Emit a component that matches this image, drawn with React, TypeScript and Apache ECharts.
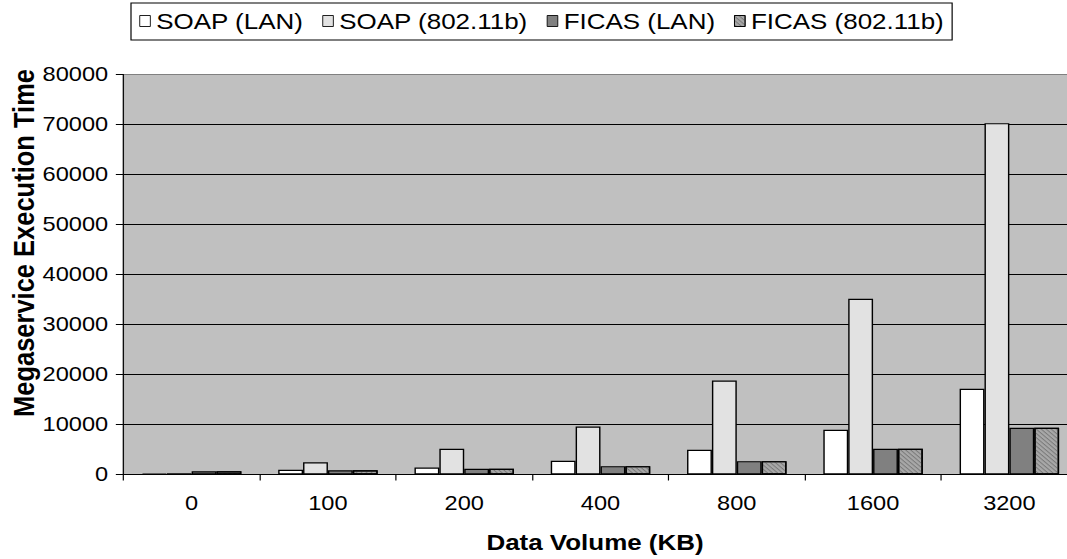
import React, { useEffect, useRef } from "react";
import * as echarts from "echarts";

const categories = ["0", "100", "200", "400", "800", "1600", "3200"];
const soapLan = [200, 950, 1400, 2730, 4930, 8930, 17130];
const soapWifi = [250, 2460, 5130, 9600, 18800, 35130, 70270];
const ficasLan = [650, 850, 1130, 1670, 2670, 5130, 9330];
const ficasWifi = [650, 850, 1130, 1670, 2670, 5130, 9330];
const seriesNames = ["SOAP (LAN)", "SOAP (802.11b)", "FICAS (LAN)", "FICAS (802.11b)"];

const FONT = "'Liberation Sans', Arial, sans-serif";
// the original picture is stretched horizontally
const K = 1.18;
const W = 1100 / K;

export default function App() {
  const ref = useRef<HTMLDivElement>(null);
  useEffect(() => {
    if (!ref.current) return;
    const chart = echarts.init(ref.current, undefined, { renderer: "svg" });
    const border = { borderColor: "#000", borderWidth: 1.2 };
    const common = { type: "bar", barGap: "0%", barCategoryGap: "27%" };
    chart.setOption({
      animation: false,
      backgroundColor: "#fff",
      textStyle: { fontFamily: FONT },
      legend: {
        left: 131 / K,
        top: 3,
        padding: [7, 7, 8, 7],
        borderColor: "#000",
        borderWidth: 1,
        icon: "rect",
        itemWidth: 9,
        itemHeight: 11,
        itemGap: 16,
        textStyle: { fontFamily: FONT, fontSize: 22, color: "#000" },
        data: seriesNames.map((n) => ({
          name: n,
          itemStyle: { borderColor: "#000", borderWidth: 0.8 },
        })),
      },
      grid: {
        left: 123.5 / K,
        width: 954 / K,
        top: 74.5,
        bottom: 84.5,
        show: true,
        backgroundColor: "#c0c0c0",
        borderColor: "#808080",
        borderWidth: 1,
      },
      xAxis: {
        type: "category",
        data: categories,
        axisLine: { lineStyle: { color: "#000", width: 1 } },
        axisTick: { show: true, length: 6, lineStyle: { color: "#000" } },
        axisLabel: { fontFamily: FONT, fontSize: 20, color: "#000", margin: 19 },
      },
      yAxis: {
        type: "value",
        min: 0,
        max: 80000,
        interval: 10000,
        axisLine: { show: true, lineStyle: { color: "#000", width: 1 } },
        axisTick: { show: true, length: 6.5, lineStyle: { color: "#000" } },
        axisLabel: {
          fontFamily: FONT,
          fontSize: 20,
          color: "#000",
          margin: 13,
          formatter: (v: number) => String(v),
        },
        splitLine: {
          show: true,
          lineStyle: {
            color: ["#000", "#000", "#000", "#000", "#000", "#000", "#000", "#000", "#808080"],
            width: 1,
          },
        },
      },
      graphic: [
        {
          type: "text",
          x: 23.5 / K,
          y: 243,
          rotation: Math.PI / 2,
          style: {
            text: "Megaservice Execution Time",
            fontFamily: FONT,
            fontSize: 25.5,
            fontWeight: "bold",
            fill: "#000",
            align: "center",
            verticalAlign: "middle",
          },
        },
        {
          type: "text",
          x: 595 / K,
          y: 542,
          style: {
            text: "Data Volume (KB)",
            fontFamily: FONT,
            fontSize: 22,
            fontWeight: "bold",
            fill: "#000",
            align: "center",
            verticalAlign: "middle",
          },
        },
      ],
      series: [
        { ...common, name: seriesNames[0], data: soapLan, itemStyle: { color: "#ffffff", ...border } },
        { ...common, name: seriesNames[1], data: soapWifi, itemStyle: { color: "#e2e2e2", ...border } },
        { ...common, name: seriesNames[2], data: ficasLan, itemStyle: { color: "#808080", ...border } },
        {
          ...common,
          name: seriesNames[3],
          data: ficasWifi,
          itemStyle: {
            color: "#a8a8a8",
            ...border,
            decal: {
              symbol: "rect",
              symbolSize: 1,
              dashArrayX: [1, 0],
              dashArrayY: [1, 2],
              rotation: Math.PI / 4,
              color: "rgba(90,90,90,0.6)",
            },
          },
        },
      ],
    });
    return () => chart.dispose();
  }, []);
  return (
    <div
      style={{
        position: "fixed",
        left: 0,
        top: 0,
        width: 1067,
        height: 559,
        overflow: "hidden",
      }}
    >
      <div
        ref={ref}
        style={{
          width: W,
          height: 559,
          transform: `scaleX(${K})`,
          transformOrigin: "0 0",
        }}
      />
    </div>
  );
}
